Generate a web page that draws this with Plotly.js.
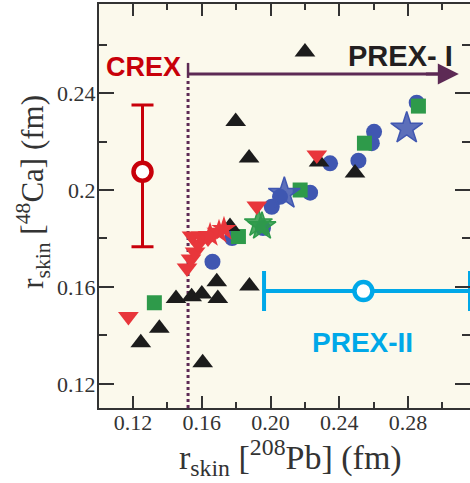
<!DOCTYPE html>
<html>
<head>
<meta charset="utf-8">
<script src="https://cdn.plot.ly/plotly-3.0.1.min.js"></script>
<style>
html,body{margin:0;padding:0;background:#fff;overflow:hidden;}
#chart{width:470px;height:483px;}
</style>
</head>
<body>
<div id="chart"></div>
<script>
// ---- data ----
const blackTriX = [0.220, 0.1797, 0.1875, 0.2282, 0.2491, 0.1764, 0.1687, 0.1877, 0.1450, 0.1541, 0.1600, 0.1693, 0.1353, 0.1245, 0.1605];
const blackTriY = [0.2569, 0.2282, 0.2132, 0.2115, 0.2070, 0.1849, 0.1622, 0.1604, 0.1553, 0.1560, 0.1571, 0.1553, 0.1430, 0.1370, 0.1288];

const redTriX = [0.1173, 0.2269, 0.1920, 0.1514, 0.1537, 0.1561, 0.1578, 0.1543, 0.1596, 0.1636];
const redTriY = [0.1478, 0.2144, 0.1934, 0.1678, 0.1715, 0.1744, 0.1777, 0.1810, 0.1810, 0.1802];

const redStarX = [0.1648, 0.1700, 0.1729];
const redStarY = [0.1814, 0.1827, 0.1839];

const greenSqX = [0.1324, 0.1813, 0.2172, 0.2546, 0.2860];
const greenSqY = [0.1535, 0.1808, 0.2000, 0.2193, 0.2346];

const blueCircX = [0.1662, 0.1776, 0.1956, 0.2007, 0.2055, 0.2230, 0.2346, 0.2511, 0.2589, 0.2602, 0.2850];
const blueCircY = [0.1704, 0.1802, 0.1843, 0.1931, 0.1972, 0.1989, 0.2110, 0.2121, 0.2193, 0.2240, 0.2360];

const blueStarX = [0.2080, 0.2792];
const blueStarY = [0.1985, 0.2254];

const greenStarX = [0.1929, 0.1950];
const greenStarY = [0.1862, 0.1850];

// CREX measurement (plotted at a nominal x)
const crexX = [0.1255];
const crexY = [0.2075];
const crexErrPlus = [0.0275];
const crexErrMinus = [0.0309];

// PREX-II measurement
const prex2X = [0.2540];
const prex2Y = [0.1583];
const prex2ErrPlus = [0.0620];
const prex2ErrMinus = [0.0578];

// PREX-I lower bound
const prex1Bound = 0.152;
const prex1ArrowY = 0.2478;
const prex1ArrowEnd = 0.3095;
const prex1CapY = [0.2462, 0.2524];
const prex1DotY = [0.1101, 0.2462];

const xTickVals = [0.12, 0.16, 0.20, 0.24, 0.28];
const xTickText = ['0.12', '0.16', '0.20', '0.24', '0.28'];
const xMinorVals = [0.14, 0.18, 0.22, 0.26, 0.30];
const yTickVals = [0.12, 0.16, 0.20, 0.24];
const yTickText = ['0.12', '0.16', '0.2', '0.24'];
const yMinorVals = [0.14, 0.18, 0.22, 0.26];

// ---- styles ----
const cBlack = '#1c1c1c', cRed = '#e8363b', cGreen = '#2e9a4a', cBlue = '#4057b1';
const cCrex = '#c8000a', cPrex2 = '#00a8e8', cPurple = '#5d2a55';
const serif = 'Liberation Serif, Times New Roman, serif';
const sans = 'Liberation Sans, Arial, sans-serif';

function pts(x, y, symbol, color, size, extra) {
  return Object.assign({
    type: 'scatter', mode: 'markers', x: x, y: y, hoverinfo: 'skip', showlegend: false,
    marker: {symbol: symbol, color: color, size: size, line: {width: 0}}
  }, extra || {});
}

const traces = [
  // PREX-I dotted bound line
  {type: 'scatter', mode: 'lines', x: [prex1Bound, prex1Bound], y: prex1DotY, showlegend: false, hoverinfo: 'skip',
   line: {color: cPurple, width: 3, dash: 'dot'}},
  // PREX-I cap
  {type: 'scatter', mode: 'lines', x: [prex1Bound, prex1Bound], y: prex1CapY, showlegend: false, hoverinfo: 'skip',
   line: {color: cPurple, width: 2.5}},
  // PREX-I horizontal line
  {type: 'scatter', mode: 'lines', x: [prex1Bound, prex1ArrowEnd - 0.006], y: [prex1ArrowY, prex1ArrowY], showlegend: false, hoverinfo: 'skip',
   line: {color: cPurple, width: 3}},
  pts(blueCircX, blueCircY, 'circle', cBlue, 16),
  pts(greenSqX, greenSqY, 'square', cGreen, 15),
  pts(blackTriX, blackTriY, 'triangle-up', cBlack, 18),
  pts(blueStarX, blueStarY, 'star', cBlue, 24, {marker: {symbol: 'star', color: 'rgba(64,87,177,0.85)', size: 24, line: {width: 1.5, color: cBlue}}}),
  pts(greenStarX, greenStarY, 'star', cGreen, 21, {marker: {symbol: 'star', color: 'rgba(46,154,74,0.85)', size: 21, line: {width: 1.5, color: cGreen}}}),
  pts(redTriX, redTriY, 'triangle-down', cRed, 18),
  pts(redStarX, redStarY, 'star', cRed, 19),
  // CREX
  {type: 'scatter', mode: 'markers', x: crexX, y: crexY, showlegend: false, hoverinfo: 'skip',
   error_y: {type: 'data', symmetric: false, array: crexErrPlus, arrayminus: crexErrMinus, color: cCrex, thickness: 3, width: 11},
   marker: {symbol: 'circle', size: 18, color: '#ffffff', line: {color: cCrex, width: 4.5}}},
  // PREX-II
  {type: 'scatter', mode: 'markers', x: prex2X, y: prex2Y, showlegend: false, hoverinfo: 'skip',
   error_x: {type: 'data', symmetric: false, array: prex2ErrPlus, arrayminus: prex2ErrMinus, color: cPrex2, thickness: 4, width: 20},
   marker: {symbol: 'circle', size: 18, color: '#ffffff', line: {color: cPrex2, width: 4.5}}}
];

const axisCommon = {
  showgrid: false, zeroline: false, showline: true, linecolor: '#333', linewidth: 2,
  mirror: 'allticks', ticks: 'inside', tickcolor: '#333', tickwidth: 2,
  tickfont: {family: serif, size: 22, color: '#333'}, tickmode: 'array'
};

const layout = {
  width: 470, height: 483, autosize: false,
  margin: {l: 99, r: 0, t: 4, b: 75, pad: 0},
  paper_bgcolor: '#ffffff', plot_bgcolor: '#fbf9ec',
  showlegend: false,
  xaxis: Object.assign({}, axisCommon, {
    range: [0.1002, 0.3160], tickvals: xTickVals, ticktext: xTickText, ticklen: 12, ticklabelstandoff: -6,
    minor: {tickmode: 'array', tickvals: xMinorVals, ticks: 'inside', ticklen: 6, tickwidth: 2, tickcolor: '#333'}
  }),
  yaxis: Object.assign({}, axisCommon, {
    range: [0.1101, 0.2767], tickvals: yTickVals, ticktext: yTickText, ticklen: 15, ticklabelstandoff: -3,
    minor: {tickmode: 'array', tickvals: yMinorVals, ticks: 'inside', ticklen: 8, tickwidth: 2, tickcolor: '#333'}
  }),
  annotations: [
    {x: prex1ArrowEnd, y: prex1ArrowY, ax: prex1ArrowEnd - 0.02, ay: prex1ArrowY, xref: 'x', yref: 'y', axref: 'x', ayref: 'y',
     showarrow: true, arrowhead: 2, arrowsize: 1.4, arrowwidth: 3, arrowcolor: cPurple, text: ''},
    {x: 0.1258, y: 0.2507, xref: 'x', yref: 'y', text: '<b>CREX</b>', showarrow: false,
     font: {family: sans, size: 27, color: cCrex}},
    {x: 0.2755, y: 0.2553, xref: 'x', yref: 'y', text: '<b>PREX- I</b>', showarrow: false,
     font: {family: sans, size: 29, color: '#231f20'}},
    {x: 0.2532, y: 0.1373, xref: 'x', yref: 'y', text: '<b>PREX-II</b>', showarrow: false,
     font: {family: sans, size: 28, color: cPrex2}},
    {x: 0.515, y: 0, xref: 'paper', yref: 'paper', yshift: -49, text: 'r<sub>skin</sub> [<sup>208</sup>Pb] (fm)', showarrow: false,
     xanchor: 'center', yanchor: 'middle', font: {family: serif, size: 34, color: '#333'}},
    {x: 0, y: 0.535, xref: 'paper', yref: 'paper', xshift: -66, text: 'r<sub>skin</sub> [<sup>48</sup>Ca] (fm)', showarrow: false,
     textangle: -90, xanchor: 'center', yanchor: 'middle', font: {family: serif, size: 31, color: '#333'}}
  ]
};

Plotly.newPlot('chart', traces, layout, {displayModeBar: false, staticPlot: true});
</script>
</body>
</html>
